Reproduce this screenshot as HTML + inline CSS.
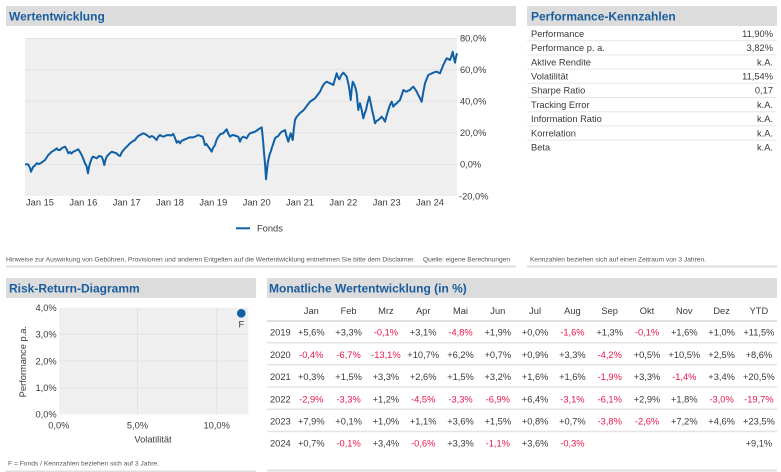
<!DOCTYPE html>
<html><head><meta charset="utf-8"><style>
html,body{margin:0;padding:0;background:#fff;}
svg{display:block;font-family:"Liberation Sans",Arial,sans-serif;}
.t{font-size:12px;font-weight:bold;fill:#1a5d9c;}
.s{font-size:9.3px;fill:#3a3a3a;}
.n{font-size:9.3px;fill:#e5174d;}
.f{font-size:6.4px;fill:#555;}
</style></head><body>
<svg width="781" height="472" viewBox="0 0 781 472" xmlns="http://www.w3.org/2000/svg">
<!-- Wertentwicklung -->
<rect x="6" y="6" width="510" height="20" fill="#dcdcdc"/>
<text x="9" y="20.5" class="t">Wertentwicklung</text>
<rect x="25" y="38" width="432" height="158" fill="#efefef"/>
<g stroke="#e2e2e2" stroke-width="1">
<line x1="25" y1="38.5" x2="457" y2="38.5"/>
<line x1="25" y1="69.6" x2="457" y2="69.6"/>
<line x1="25" y1="101.2" x2="457" y2="101.2"/>
<line x1="25" y1="132.8" x2="457" y2="132.8"/>
<line x1="25" y1="164.4" x2="457" y2="164.4"/>
</g>
<g class="s">
<text x="460" y="41.3">80,0%</text>
<text x="460" y="72.9">60,0%</text>
<text x="460" y="104.5">40,0%</text>
<text x="460" y="136.1">20,0%</text>
<text x="460" y="167.7">0,0%</text>
<text x="459" y="199.3">-20,0%</text>
</g>
<g class="s" text-anchor="middle">
<text x="40" y="205.6">Jan 15</text>
<text x="83.3" y="205.6">Jan 16</text>
<text x="126.7" y="205.6">Jan 17</text>
<text x="170" y="205.6">Jan 18</text>
<text x="213.3" y="205.6">Jan 19</text>
<text x="256.7" y="205.6">Jan 20</text>
<text x="300" y="205.6">Jan 21</text>
<text x="343.3" y="205.6">Jan 22</text>
<text x="386.7" y="205.6">Jan 23</text>
<text x="430" y="205.6">Jan 24</text>
</g>
<polyline fill="none" stroke="#1060a8" stroke-width="2" stroke-linejoin="round" points="25,164.3 28.3,164.5 30,168 31,171.7 33.3,166.7 35,165.5 36.7,163.3 39,164 41.7,162.5 43,161.5 45,160 47,157 48.3,155 50,153.5 51.7,151.7 54,150.5 56.7,148.3 58,150 60,150 62,148 65,146.7 66.5,149 68.3,153.3 70,152 71.5,153.5 73.3,151.7 76,150.5 78.3,149.3 80,152 81.7,155 83,158 85,163.3 86.5,166 88,173.3 89,167 90,163.3 91.5,159 92.7,156.7 95,157.5 96.7,158.3 99,156 101.7,156.7 103,160 104.3,165 105.5,160 106.7,156.7 109,154 111.7,151.7 114,152.5 116.7,153.3 118,155 120,156 122,152 125,148.3 127.5,146 130,143.3 132.5,141.5 135,140 136.5,138 138.3,136 141,134.5 143.3,133.3 145,134 146.7,135 148.5,136.5 150,137.3 151.5,136 153.3,136.7 155,138.5 156.7,140 158,137 160,135 161.5,136 163.3,136.7 166,135.5 168.3,135 171,135.5 173.3,134 175,138 176.7,142.7 178.3,141 180,143.3 181.5,141 183.3,140 186,139 188,138 190,137.3 192.5,137.5 195,136.7 196.5,136 198.3,135 200.5,136 202.7,136.7 204,141 205,145 206.5,144 208.3,146.7 210,149 211.7,151.7 213,148 215,145 216.5,140 218.3,136.7 220.5,134 223.3,133.3 225,131 226.7,129.3 228,133 230,136.7 231.5,135.5 233.3,135 236,136 238.3,136.7 240,141.7 241.5,138 243.3,136.7 245,137.5 246.7,138.3 248.5,135 250,133.3 252.5,132.5 255,131.7 257.5,130 260,128.3 261.7,127.3 262.5,135 263.3,143.3 264.2,155 265,163.3 266,179.3 267,170 267.7,163.3 269,157 270,153.3 271,151 271.7,148.3 273.5,143 275,138.3 276.5,137 278.3,136 280,133.5 281.7,131.7 283.3,131 285,130 286.5,136 288.3,141.7 289.5,137 290.7,133.3 291.7,137 292.7,140 293.8,129 295,120 296.5,117 298.3,115 300,113 301.7,111.7 303.3,110.5 305,108.3 307.5,105 310,101.7 312.5,100 315,98.3 317.5,95 320,91.7 321.7,88 323.3,85 325,83 326.7,81.7 328.3,82.5 330,83.3 331.7,84 333.3,85 335,79 336.7,73.3 338,77 339.3,79.3 341.3,75 343.3,72.7 345,74.5 346.7,76.7 347.5,80 348.3,83.3 349.5,90 350.7,100 351.7,89 352.7,81.7 354,84 355,86.7 356,90 356.7,93.3 357.5,102 358.3,110 359,106 360,103.3 361.7,110 363.3,118.3 364.5,114 366,110 367.5,103 369.3,96.7 370.5,102 371.7,108.3 373.5,116 375,123.3 376.5,121 378.3,120 380,118.5 381.7,116.7 383.5,119 385,121.7 386.5,116 388.3,110 390,105 391.7,101.7 392.5,104 393.3,106.7 395,104.5 396.7,103.3 398.3,101.5 400,100 401.7,95 403.3,90 405,91 406.7,91.7 408.3,90.5 410,90 411.7,88 413.3,86.7 415,89 416.7,91.7 418.3,95 420,98.3 421.7,101.7 423.3,92 425,83.3 426.7,79 428.3,75 430.5,74 433.3,72.7 435,72 436.7,71.7 438.3,72.5 440,73.3 441.7,69 443.3,65 445,61.5 446.7,58.3 448.3,59 450,60 451.5,56 452.7,51.7 453.7,57 455,62.7 455.8,58 457,53.3"/>
<line x1="236" y1="228.3" x2="250" y2="228.3" stroke="#1060a8" stroke-width="2"/>
<text x="257" y="231.6" class="s">Fonds</text>
<text x="6" y="261.3" class="f" textLength="409" lengthAdjust="spacingAndGlyphs">Hinweise zur Auswirkung von Gebühren, Provisionen und anderen Entgelten auf die Wertentwicklung entnehmen Sie bitte dem Disclaimer.</text>
<text x="423" y="261.3" class="f" textLength="87" lengthAdjust="spacingAndGlyphs">Quelle: eigene Berechnungen</text>
<rect x="6" y="265.5" width="510" height="2" fill="#dedede"/>

<!-- Performance-Kennzahlen -->
<rect x="527" y="6" width="250" height="20" fill="#dcdcdc"/>
<text x="531" y="20.5" class="t">Performance-Kennzahlen</text>
<g stroke="#e6e6e6" stroke-width="1">
<line x1="527" y1="40.7" x2="777" y2="40.7"/>
<line x1="527" y1="54.9" x2="777" y2="54.9"/>
<line x1="527" y1="69.1" x2="777" y2="69.1"/>
<line x1="527" y1="83.3" x2="777" y2="83.3"/>
<line x1="527" y1="97.5" x2="777" y2="97.5"/>
<line x1="527" y1="111.7" x2="777" y2="111.7"/>
<line x1="527" y1="125.9" x2="777" y2="125.9"/>
<line x1="527" y1="140.1" x2="777" y2="140.1"/>
</g>
<g class="s">
<text x="531" y="36.9">Performance</text>
<text x="531" y="51.1">Performance p. a.</text>
<text x="531" y="65.3">Aktive Rendite</text>
<text x="531" y="79.5">Volatilität</text>
<text x="531" y="93.7">Sharpe Ratio</text>
<text x="531" y="107.9">Tracking Error</text>
<text x="531" y="122.1">Information Ratio</text>
<text x="531" y="136.3">Korrelation</text>
<text x="531" y="150.5">Beta</text>
</g>
<g class="s" text-anchor="end">
<text x="773" y="36.9">11,90%</text>
<text x="773" y="51.1">3,82%</text>
<text x="773" y="65.3">k.A.</text>
<text x="773" y="79.5">11,54%</text>
<text x="773" y="93.7">0,17</text>
<text x="773" y="107.9">k.A.</text>
<text x="773" y="122.1">k.A.</text>
<text x="773" y="136.3">k.A.</text>
<text x="773" y="150.5">k.A.</text>
</g>
<text x="530" y="261.3" class="f" textLength="176" lengthAdjust="spacingAndGlyphs">Kennzahlen beziehen sich auf einen Zeitraum von 3 Jahren.</text>
<rect x="527" y="265.5" width="250" height="2" fill="#dedede"/>

<!-- Risk-Return -->
<rect x="6" y="278" width="250" height="20" fill="#dcdcdc"/>
<text x="9" y="292.5" class="t">Risk-Return-Diagramm</text>
<rect x="59.3" y="307.7" width="189" height="106.7" fill="#efefef"/>
<g stroke="#e2e2e2" stroke-width="1">
<line x1="59.3" y1="334.3" x2="248.3" y2="334.3"/>
<line x1="59.3" y1="361" x2="248.3" y2="361"/>
<line x1="59.3" y1="387.7" x2="248.3" y2="387.7"/>
<line x1="137.5" y1="307.7" x2="137.5" y2="414.4"/>
<line x1="216.7" y1="307.7" x2="216.7" y2="414.4"/>
</g>
<g class="s" text-anchor="end">
<text x="56.7" y="311">4,0%</text>
<text x="56.7" y="337.6">3,0%</text>
<text x="56.7" y="364.3">2,0%</text>
<text x="56.7" y="391">1,0%</text>
<text x="56.7" y="417.6">0,0%</text>
</g>
<g class="s" text-anchor="middle">
<text x="58.8" y="428.3">0,0%</text>
<text x="137.5" y="428.3">5,0%</text>
<text x="216.7" y="428.3">10,0%</text>
<text x="153" y="442.3">Volatilität</text>
<text x="241.3" y="327.5">F</text>
<text transform="translate(26,361.7) rotate(-90)" x="0" y="0">Performance p.a.</text>
</g>
<circle cx="241.3" cy="313.3" r="4.3" fill="#0f5ea8"/>
<text x="8" y="465.5" class="f" textLength="151" lengthAdjust="spacingAndGlyphs">F = Fonds / Kennzahlen beziehen sich auf 3 Jahre.</text>
<rect x="6" y="470.5" width="250" height="2" fill="#dedede"/>

<!-- Monatliche Wertentwicklung -->
<rect x="267" y="278" width="510" height="20" fill="#dcdcdc"/>
<text x="269" y="292.5" class="t">Monatliche Wertentwicklung (in %)</text>
<g class="s" text-anchor="middle">
<text x="311.3" y="314">Jan</text><text x="348.6" y="314">Feb</text><text x="385.9" y="314">Mrz</text><text x="423.2" y="314">Apr</text><text x="460.5" y="314">Mai</text><text x="497.8" y="314">Jun</text><text x="535.1" y="314">Jul</text><text x="572.4" y="314">Aug</text><text x="609.7" y="314">Sep</text><text x="647" y="314">Okt</text><text x="684.3" y="314">Nov</text><text x="721.6" y="314">Dez</text><text x="758.9" y="314">YTD</text>
</g>
<rect x="267" y="320" width="510" height="2" fill="#e0e0e0"/>
<g fill="#e4e4e4">
<rect x="267" y="342" width="510" height="1.5"/>
<rect x="267" y="364" width="510" height="1.5"/>
<rect x="267" y="386.2" width="510" height="1.5"/>
<rect x="267" y="408.5" width="510" height="1.5"/>
<rect x="267" y="430.7" width="510" height="1.5"/>
</g>
<rect x="267" y="469.5" width="510" height="2" fill="#dedede"/>
<g class="s">
<text x="270" y="335.6">2019</text>
<text x="270" y="357.8">2020</text>
<text x="270" y="380">2021</text>
<text x="270" y="402.3">2022</text>
<text x="270" y="424.5">2023</text>
<text x="270" y="446.7">2024</text>
</g>
<g text-anchor="middle">
<!-- 2019 -->
<text class="s" x="311.3" y="335.6">+5,6%</text><text class="s" x="348.6" y="335.6">+3,3%</text><text class="n" x="385.9" y="335.6">-0,1%</text><text class="s" x="423.2" y="335.6">+3,1%</text><text class="n" x="460.5" y="335.6">-4,8%</text><text class="s" x="497.8" y="335.6">+1,9%</text><text class="s" x="535.1" y="335.6">+0,0%</text><text class="n" x="572.4" y="335.6">-1,6%</text><text class="s" x="609.7" y="335.6">+1,3%</text><text class="n" x="647" y="335.6">-0,1%</text><text class="s" x="684.3" y="335.6">+1,6%</text><text class="s" x="721.6" y="335.6">+1,0%</text><text class="s" x="758.9" y="335.6">+11,5%</text>
<!-- 2020 -->
<text class="n" x="311.3" y="357.8">-0,4%</text><text class="n" x="348.6" y="357.8">-6,7%</text><text class="n" x="385.9" y="357.8">-13,1%</text><text class="s" x="423.2" y="357.8">+10,7%</text><text class="s" x="460.5" y="357.8">+6,2%</text><text class="s" x="497.8" y="357.8">+0,7%</text><text class="s" x="535.1" y="357.8">+0,9%</text><text class="s" x="572.4" y="357.8">+3,3%</text><text class="n" x="609.7" y="357.8">-4,2%</text><text class="s" x="647" y="357.8">+0,5%</text><text class="s" x="684.3" y="357.8">+10,5%</text><text class="s" x="721.6" y="357.8">+2,5%</text><text class="s" x="758.9" y="357.8">+8,6%</text>
<!-- 2021 -->
<text class="s" x="311.3" y="380">+0,3%</text><text class="s" x="348.6" y="380">+1,5%</text><text class="s" x="385.9" y="380">+3,3%</text><text class="s" x="423.2" y="380">+2,6%</text><text class="s" x="460.5" y="380">+1,5%</text><text class="s" x="497.8" y="380">+3,2%</text><text class="s" x="535.1" y="380">+1,6%</text><text class="s" x="572.4" y="380">+1,6%</text><text class="n" x="609.7" y="380">-1,9%</text><text class="s" x="647" y="380">+3,3%</text><text class="n" x="684.3" y="380">-1,4%</text><text class="s" x="721.6" y="380">+3,4%</text><text class="s" x="758.9" y="380">+20,5%</text>
<!-- 2022 -->
<text class="n" x="311.3" y="402.3">-2,9%</text><text class="n" x="348.6" y="402.3">-3,3%</text><text class="s" x="385.9" y="402.3">+1,2%</text><text class="n" x="423.2" y="402.3">-4,5%</text><text class="n" x="460.5" y="402.3">-3,3%</text><text class="n" x="497.8" y="402.3">-6,9%</text><text class="s" x="535.1" y="402.3">+6,4%</text><text class="n" x="572.4" y="402.3">-3,1%</text><text class="n" x="609.7" y="402.3">-6,1%</text><text class="s" x="647" y="402.3">+2,9%</text><text class="s" x="684.3" y="402.3">+1,8%</text><text class="n" x="721.6" y="402.3">-3,0%</text><text class="n" x="758.9" y="402.3">-19,7%</text>
<!-- 2023 -->
<text class="s" x="311.3" y="424.5">+7,9%</text><text class="s" x="348.6" y="424.5">+0,1%</text><text class="s" x="385.9" y="424.5">+1,0%</text><text class="s" x="423.2" y="424.5">+1,1%</text><text class="s" x="460.5" y="424.5">+3,6%</text><text class="s" x="497.8" y="424.5">+1,5%</text><text class="s" x="535.1" y="424.5">+0,8%</text><text class="s" x="572.4" y="424.5">+0,7%</text><text class="n" x="609.7" y="424.5">-3,8%</text><text class="n" x="647" y="424.5">-2,6%</text><text class="s" x="684.3" y="424.5">+7,2%</text><text class="s" x="721.6" y="424.5">+4,6%</text><text class="s" x="758.9" y="424.5">+23,5%</text>
<!-- 2024 -->
<text class="s" x="311.3" y="446.7">+0,7%</text><text class="n" x="348.6" y="446.7">-0,1%</text><text class="s" x="385.9" y="446.7">+3,4%</text><text class="n" x="423.2" y="446.7">-0,6%</text><text class="s" x="460.5" y="446.7">+3,3%</text><text class="n" x="497.8" y="446.7">-1,1%</text><text class="s" x="535.1" y="446.7">+3,6%</text><text class="n" x="572.4" y="446.7">-0,3%</text><text class="s" x="758.9" y="446.7">+9,1%</text>
</g>
</svg>
</body></html>
